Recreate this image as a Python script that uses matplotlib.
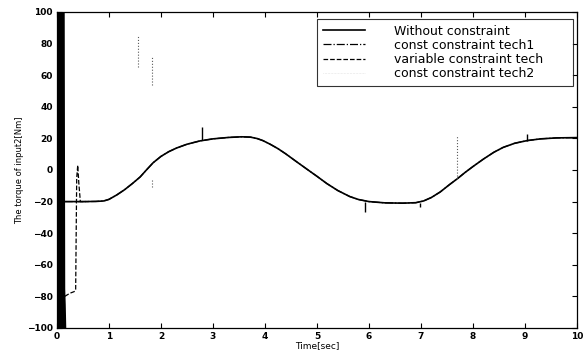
import matplotlib
matplotlib.use("Agg")
import matplotlib.pyplot as plt

# ── Data ─────────────────────────────────────────────────────────────────────
# Without constraint: smooth reference torque (t [s], torque [Nm])
base_t = [0.15, 0.5, 0.75, 0.9, 1.0, 1.15, 1.3, 1.45, 1.6, 1.72, 1.85, 2.0,
          2.15, 2.3, 2.5, 2.75, 3.0, 3.3, 3.55, 3.72, 3.85, 3.96, 4.1, 4.25,
          4.4, 4.6, 4.85, 5.0, 5.19, 5.4, 5.63, 5.8, 6.0, 6.3, 6.65, 6.9,
          7.05, 7.2, 7.37, 7.55, 7.7, 7.85, 8.0, 8.2, 8.4, 8.58, 8.8, 9.04,
          9.3, 9.6, 10.0]
base_v = [-20, -20, -19.9, -19.6, -18.6, -15.8, -12.5, -8.6, -4.4, 0, 4.6, 8.6,
          11.6, 13.9, 16.3, 18.4, 19.7, 20.6, 21, 20.8, 19.9, 18.6, 16.3, 13.5,
          10.2, 5.4, -0.5, -4, -8.6, -13, -16.8, -18.7, -20, -20.8, -21, -20.7,
          -19.6, -17.4, -13.9, -9.2, -5.5, -1.5, 2.2, 6.9, 11.2, 14.3, 16.9, 18.6,
          19.7, 20.3, 20.5]

# const constraint tech1: short deviations from the smooth curve
tech1_t = [2.79, 5.92, 6.98, 9.04]
tech1_lo = [19, -26.5, -23.5, 18.5]
tech1_hi = [27, -20, -21, 22.5]

# variable constraint tech: start-up transient, then follows the curve
var_t = [0.15, 0.25, 0.33, 0.36, 0.37, 0.38, 0.40, 0.42, 0.45, 0.6]
var_v = [-80, -78, -77, -76, -40, -5, 3, -8, -20, -20]

# const constraint tech2: sparse dotted spikes
tech2_t = [1.55, 1.82, 1.82, 7.69]
tech2_lo = [65, 54, -11, -6]
tech2_hi = [85, 72, -6, 22]

# saturated chattering at the very start
band_v = [-100, -85, -75, 100]
band_right = [0.17, 0.16, 0.15, 0.14]

# ── Figure ───────────────────────────────────────────────────────────────────
fig = plt.figure(figsize=(5.87, 3.59), dpi=100)
fig.patch.set_facecolor("white")
ax = fig.add_axes([0.097, 0.0864, 0.886, 0.8802])

ax.fill_betweenx(band_v, 0, band_right, color="black", linewidth=0)

ax.plot(base_t, base_v, color="black", linewidth=1.2, linestyle="-",
        label="Without constraint")
ax.plot(base_t, base_v, color="black", linewidth=0.9, linestyle="-.",
        label="const constraint tech1")
ax.vlines(tech1_t, tech1_lo, tech1_hi, color="black", linewidth=1.0)
ax.plot(var_t, var_v, color="black", linewidth=0.9, linestyle="--",
        label="variable constraint tech" + " " * 6)
ax.plot([], [], color="0.8", linewidth=0.4, linestyle=":",
        label="const constraint tech2")
ax.vlines(tech2_t, tech2_lo, tech2_hi, color="0.35", linewidth=0.8,
          linestyles=":")

ax.set_xlim(0, 10)
ax.set_ylim(-100, 100)
ax.set_xticks(range(0, 11))
ax.set_yticks(range(-100, 101, 20))
ax.tick_params(direction="in", top=True, right=True, length=3.5, width=0.8,
               labelsize=6.5, pad=3)
for lab in ax.get_xticklabels() + ax.get_yticklabels():
    lab.set_fontweight("bold")
for sp in ax.spines.values():
    sp.set_linewidth(0.9)

ax.set_xlabel("Time[sec]", fontsize=6.5, labelpad=0)
ax.set_ylabel("The torque of input2[Nm]", fontsize=6, labelpad=2)

leg = ax.legend(loc="upper right", bbox_to_anchor=(0.992, 0.978),
                borderaxespad=0, fontsize=9, frameon=True, fancybox=False,
                handlelength=3.4, handletextpad=2.3, labelspacing=0.1,
                borderpad=0.45)
leg.get_frame().set_edgecolor("black")
leg.get_frame().set_linewidth(0.8)

fig.savefig("out.png", dpi=100, facecolor="white")
